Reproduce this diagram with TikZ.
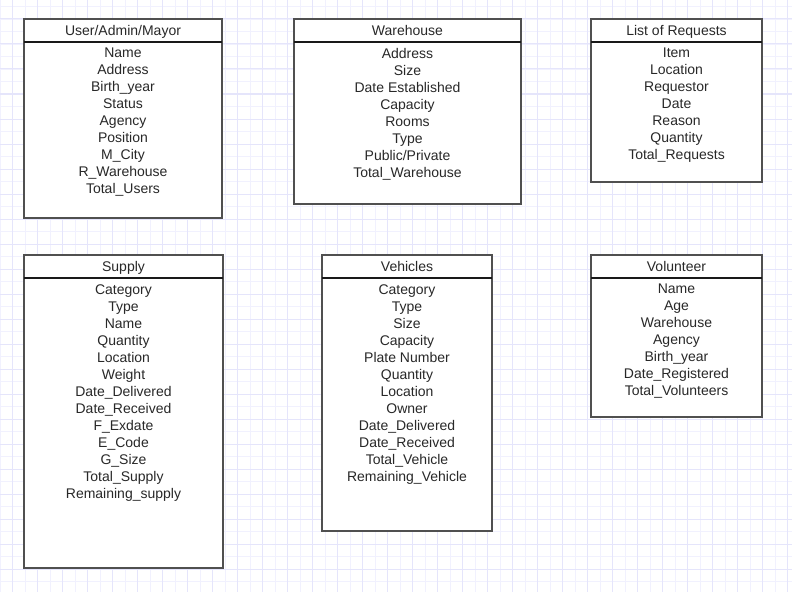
\documentclass[tikz,border=0pt]{standalone}
\usepackage{fontspec}
\setmainfont{Liberation Sans}
\usetikzlibrary{positioning}
\definecolor{gridminor}{RGB}{241,241,254}
\definecolor{gridmajor}{RGB}{229,229,251}
\definecolor{boxline}{RGB}{80,80,80}
\definecolor{inktext}{RGB}{40,40,40}
\tikzset{
  head/.style={anchor=north west, inner sep=0pt, outer sep=0pt, minimum height=17.25pt,
    text height=10.5pt, text depth=2.5pt,
    text=inktext, font=\fontsize{10.5}{12.75}\selectfont},
  rows/.style={inner sep=0pt, outer sep=0pt, align=center, text=inktext,
    font=\fontsize{10.5}{12.75}\selectfont},
  box/.style={draw=boxline, line width=1.2pt},
  sep/.style={draw=black!90, line width=1.3pt}
}
\begin{document}
\begin{tikzpicture}[x=0.75pt,y=-0.75pt]
\useasboundingbox (0,0) rectangle (792,592);
% grid
\foreach \i in {0,...,63} \draw[gridminor, line width=0.75pt] (12.5*\i,0) -- (12.5*\i,592);
\foreach \j in {0,...,46} \draw[gridminor, line width=0.75pt] (0,6.7+12.5*\j) -- (792,6.7+12.5*\j);
\foreach \i in {0,...,31} \draw[gridmajor, line width=0.75pt] (12.5+25*\i,0) -- (12.5+25*\i,592);
\foreach \j in {0,...,23} \draw[gridmajor, line width=0.75pt] (0,19+25*\j) -- (792,19+25*\j);

% boxes
\fill[white] (24,19) rectangle ++(198,199);
\fill[white] (294,19) rectangle ++(227,185);
\fill[white] (591,19) rectangle ++(171,163);
\fill[white] (24,255) rectangle ++(199,313);
\fill[white] (322,255) rectangle ++(170,276);
\fill[white] (591,255) rectangle ++(171,162);

% top row
\node[head, minimum width=148.5pt] (user) at (24,19) {User/Admin/Mayor};
\node[rows, below=4.75pt of user.south] (userrows)
  {Name\\Address\\Birth\_year\\Status\\Agency\\Position\\M\_City\\R\_Warehouse\\Total\_Users};
\draw[box] (user.north west) rectangle ++(198,199);
\draw[sep] (user.south west) -- (user.south east);

\node[head, minimum width=170.25pt] (ware) at (294,19) {Warehouse};
\node[rows, below=4.75pt of ware.south] (warerows)
  {Address\\Size\\Date Established\\Capacity\\Rooms\\Type\\Public/Private\\Total\_Warehouse};
\draw[box] (ware.north west) rectangle ++(227,185);
\draw[sep] (ware.south west) -- (ware.south east);

\node[head, minimum width=128.25pt] (req) at (591,19) {List of Requests};
\node[rows, below=4.75pt of req.south] (reqrows)
  {Item\\Location\\Requestor\\Date\\Reason\\Quantity\\Total\_Requests};
\draw[box] (req.north west) rectangle ++(171,163);
\draw[sep] (req.south west) -- (req.south east);

% bottom row
\node[head, minimum width=149.25pt] (supply) at (24,255) {Supply};
\node[rows, below=4.75pt of supply.south] (supplyrows)
  {Category\\Type\\Name\\Quantity\\Location\\Weight\\Date\_Delivered\\Date\_Received\\F\_Exdate\\E\_Code\\G\_Size\\Total\_Supply\\Remaining\_supply};
\draw[box] (supply.north west) rectangle ++(199,313);
\draw[sep] (supply.south west) -- (supply.south east);

\node[head, minimum width=127.5pt] (veh) at (322,255) {Vehicles};
\node[rows, below=4.75pt of veh.south] (vehrows)
  {Category\\Type\\Size\\Capacity\\Plate Number\\Quantity\\Location\\Owner\\Date\_Delivered\\Date\_Received\\Total\_Vehicle\\Remaining\_Vehicle};
\draw[box] (veh.north west) rectangle ++(170,276);
\draw[sep] (veh.south west) -- (veh.south east);

\node[head, minimum width=128.25pt] (vol) at (591,255) {Volunteer};
\node[rows, below=4.75pt of vol.south] (volrows)
  {Name\\Age\\Warehouse\\Agency\\Birth\_year\\Date\_Registered\\Total\_Volunteers};
\draw[box] (vol.north west) rectangle ++(171,162);
\draw[sep] (vol.south west) -- (vol.south east);
\end{tikzpicture}
\end{document}
